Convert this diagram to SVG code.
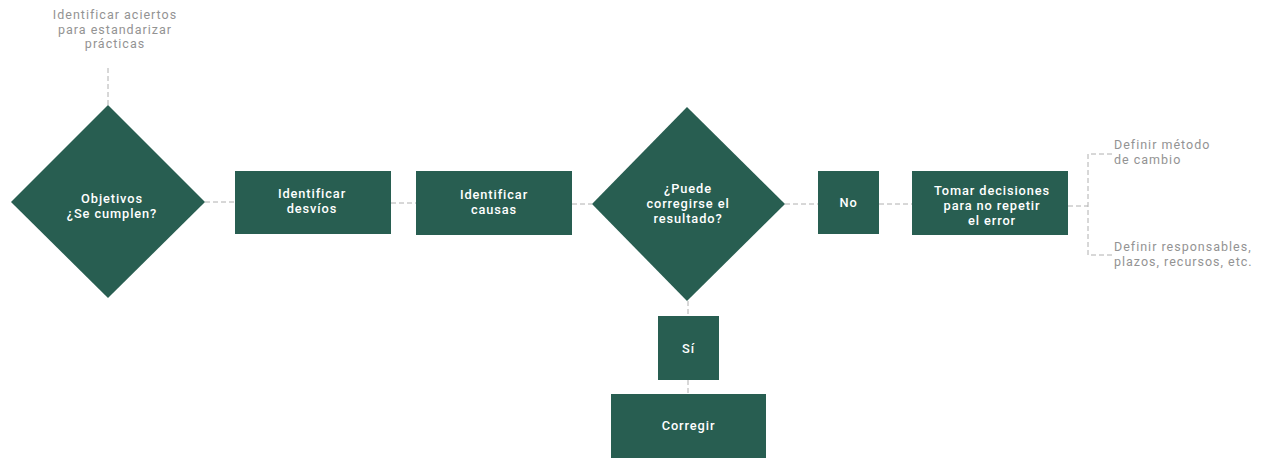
<svg xmlns="http://www.w3.org/2000/svg" width="1267" height="458" viewBox="0 0 1267 458">
  <style>
    .shape { fill: #285e51; }
    .lbl { fill: #ffffff; font-family: Roboto, "Open Sans", sans-serif; font-size: 12.8px; font-weight: 500; letter-spacing: 0.9px; text-anchor: middle; }
    .note { fill: #939393; font-family: Roboto, "Open Sans", sans-serif; font-size: 12.5px; letter-spacing: 1px; }
    .note-c { text-anchor: middle; }
    .link { fill: none; stroke: #b0b0b0; stroke-width: 1; stroke-dasharray: 5 3; }
  </style>
  <rect width="1267" height="458" fill="#ffffff"/>

  <g id="connectors">
    <line class="link" x1="108" y1="105" x2="108" y2="68"/>
    <line class="link" x1="205" y1="202" x2="235" y2="202"/>
    <line class="link" x1="391" y1="203" x2="416" y2="203"/>
    <line class="link" x1="572" y1="204" x2="592" y2="204"/>
    <line class="link" x1="785" y1="204" x2="818" y2="204"/>
    <line class="link" x1="879" y1="204" x2="912" y2="204"/>
    <line class="link" x1="1068" y1="206" x2="1088" y2="206"/>
    <polyline class="link" points="1112,154 1088,154 1088,255 1112,255"/>
    <line class="link" x1="688" y1="301" x2="688" y2="316"/>
    <line class="link" x1="688" y1="380" x2="688" y2="394"/>
  </g>

  <g id="note-aciertos">
    <text class="note note-c" x="115" y="19">Identificar aciertos</text>
    <text class="note note-c" x="115" y="33.7">para estandarizar</text>
    <text class="note note-c" x="115" y="48.4">prácticas</text>
  </g>

  <g id="objetivos">
    <polygon class="shape" points="108,105 205,202 108,298 11,202"/>
    <text class="lbl" x="112" y="203">Objetivos</text>
    <text class="lbl" x="112" y="218">¿Se cumplen?</text>
  </g>

  <g id="desvios">
    <rect class="shape" x="235" y="171" width="156" height="63"/>
    <text class="lbl" x="312" y="198">Identificar</text>
    <text class="lbl" x="312" y="213">desvíos</text>
  </g>

  <g id="causas">
    <rect class="shape" x="416" y="171" width="156" height="64"/>
    <text class="lbl" x="494" y="199">Identificar</text>
    <text class="lbl" x="494" y="214">causas</text>
  </g>

  <g id="corregible">
    <polygon class="shape" points="687,107 785,204 687,301 592,204"/>
    <text class="lbl" x="688" y="193">¿Puede</text>
    <text class="lbl" x="688" y="208">corregirse el</text>
    <text class="lbl" x="688" y="223">resultado?</text>
  </g>

  <g id="no">
    <rect class="shape" x="818" y="171" width="61" height="63"/>
    <text class="lbl" x="848.5" y="207">No</text>
  </g>

  <g id="decisiones">
    <rect class="shape" x="912" y="171" width="156" height="64"/>
    <text class="lbl" x="992" y="195">Tomar decisiones</text>
    <text class="lbl" x="992" y="210">para no repetir</text>
    <text class="lbl" x="992" y="225">el error</text>
  </g>

  <g id="note-metodo">
    <text class="note" x="1114" y="149">Definir método</text>
    <text class="note" x="1114" y="163.7">de cambio</text>
  </g>

  <g id="note-responsables">
    <text class="note" x="1114" y="251">Definir responsables,</text>
    <text class="note" x="1114" y="266">plazos, recursos, etc.</text>
  </g>

  <g id="si">
    <rect class="shape" x="658" y="316" width="61" height="64"/>
    <text class="lbl" x="688.5" y="353">Sí</text>
  </g>

  <g id="corregir">
    <rect class="shape" x="611" y="394" width="155" height="64"/>
    <text class="lbl" x="688.5" y="430">Corregir</text>
  </g>
</svg>
